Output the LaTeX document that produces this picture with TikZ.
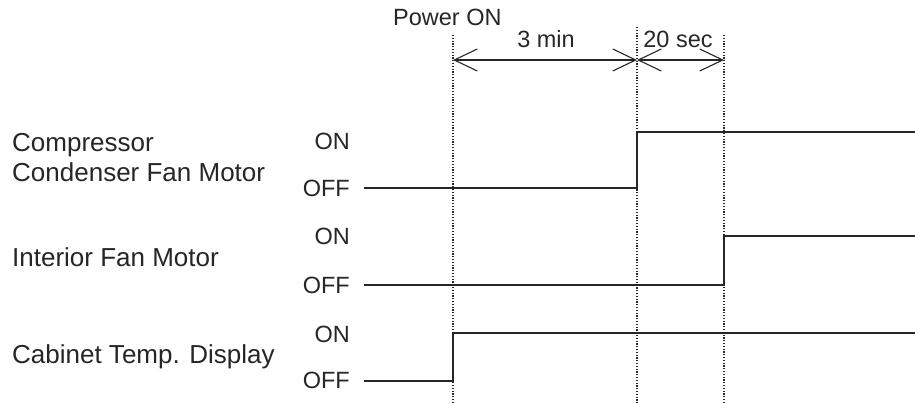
\documentclass[tikz,border=0pt]{standalone}
\usepackage{fontspec}
\setmainfont{Liberation Sans}
\usetikzlibrary{arrows.meta}
\begin{document}
\begin{tikzpicture}[x=1pt,y=-1pt,
  small/.style={font=\fontsize{23.5}{28}\selectfont, inner sep=0pt, text=black!85},
  big/.style={font=\fontsize{26}{30}\selectfont, inner sep=0pt, text=black!85},
  guide/.style={line width=1.2pt, dash pattern=on 1.2pt off 1.6pt, black!85},
  wave/.style={line width=2pt, black!85},
  dim/.style={line width=1.1pt, black!85, {Straight Barb[length=23pt,width=22pt,line width=1.1pt]}-{Straight Barb[length=23pt,width=22pt,line width=1.1pt]}}]
\useasboundingbox (0,0) rectangle (915,403);
% guide lines
\coordinate (t0top) at (453,35);  \coordinate (t0bot) at (453,403);
\coordinate (t1top) at (637,27);  \coordinate (t1bot) at (637,403);
\coordinate (t2top) at (724,35);  \coordinate (t2bot) at (724,403);
\draw[guide] (t0top) -- (t0bot);
\draw[guide] (t1top) -- (t1bot);
\draw[guide] (t2top) -- (t2bot);
% dimension arrows
\coordinate (a0) at (453,60);
\coordinate (a1) at (637,60);
\coordinate (a2) at (724,60);
\draw[dim] (a0) -- (a1);
\draw[dim] (a1) -- (a2);
\node[small, anchor=base west] (pwr) at (393,26) {Power ON};
\node[small, anchor=base] (m3) at (546,48) {3 min};
\node[small, anchor=base] (s20) at (678,48) {20 sec};
% left labels
\node[big, anchor=base west] (comp) at (12,152) {Compressor};
\node[big, anchor=base west] (cond) at (12,182) {Condenser Fan Motor};
\node[big, anchor=base west] (intf) at (12,267) {Interior Fan Motor};
\node[big, anchor=base west] (cab) at (12,363) {Cabinet Temp. Display};
% on/off labels
\node[small, anchor=base east] (on1) at (350,150) {ON};
\node[small, anchor=base east] (off1) at (350,196.5) {OFF};
\node[small, anchor=base east] (on2) at (350,245) {ON};
\node[small, anchor=base east] (off2) at (350,293) {OFF};
\node[small, anchor=base east] (on3) at (350,342) {ON};
\node[small, anchor=base east] (off3) at (350,388) {OFF};
% waveforms
\coordinate (w1a) at (364,188); \coordinate (w1b) at (637,188);
\coordinate (w1c) at (637,132); \coordinate (w1d) at (915,132);
\draw[wave] (w1a) -- (w1b) -- (w1c) -- (w1d);
\coordinate (w2a) at (364,284.5); \coordinate (w2b) at (724,284.5);
\coordinate (w2c) at (724,236); \coordinate (w2d) at (915,236);
\draw[wave] (w2a) -- (w2b) -- (w2c) -- (w2d);
\coordinate (w3a) at (364,381); \coordinate (w3b) at (453,381);
\coordinate (w3c) at (453,333); \coordinate (w3d) at (915,333);
\draw[wave] (w3a) -- (w3b) -- (w3c) -- (w3d);
\end{tikzpicture}
\end{document}
